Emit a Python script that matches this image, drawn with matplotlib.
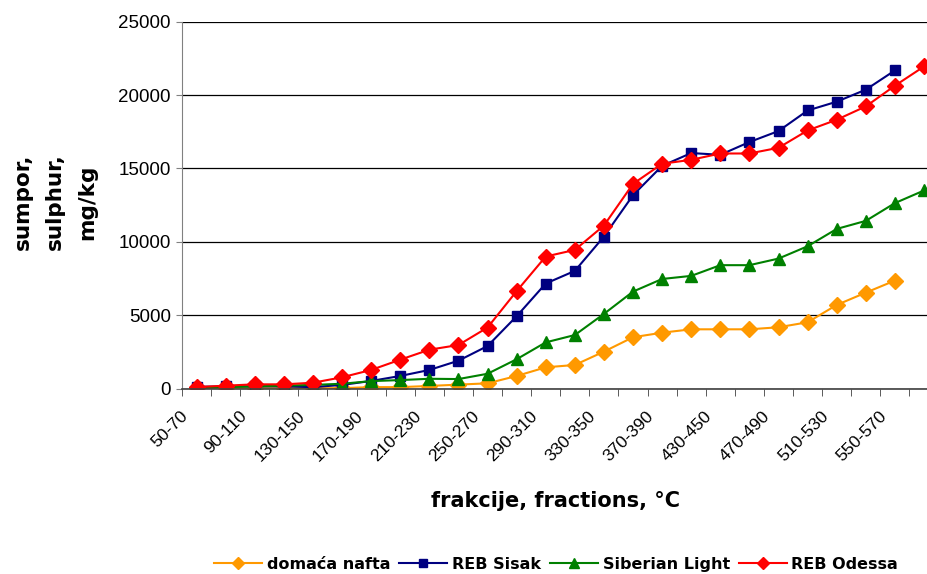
import matplotlib
matplotlib.use("Agg")
import matplotlib.pyplot as plt
import matplotlib.transforms as mtransforms
import numpy as np

plt.rcParams['font.family'] = ['Liberation Sans', 'DejaVu Sans']

# temperature fractions (26 categories, only every second one is labelled)
fractions = ["50-70", "70-90", "90-110", "110-130", "130-150", "150-170",
             "170-190", "190-210", "210-230", "230-250", "250-270", "270-290",
             "290-310", "310-330", "330-350", "350-370", "370-390", "390-430",
             "430-450", "450-470", "470-490", "490-510", "510-530", "530-550",
             "550-570", "570-590"]

# sulphur, mg/kg
domaca_nafta = [20, 20, 20, 20, 30, 30, 100, 100, 180, 270, 360, 860, 1450,
                1610, 2520, 3500, 3810, 4040, 4040, 4040, 4180, 4520, 5700,
                6540, 7360, None]
reb_sisak = [120, 150, 150, 150, 100, 250, 520, 860, 1270, 1900, 2900, 4930,
             7160, 8020, 10360, 13180, 15180, 16050, 15930, 16800, 17550,
             18950, 19550, 20370, 21680, None]
siberian_light = [30, 100, 150, 200, 250, 330, 510, 580, 670, 650, 1010, 2000,
                  3150, 3650, 5090, 6610, 7470, 7680, 8410, 8410, 8860, 9700,
                  10880, 11430, 12640, 13500]
reb_odessa = [100, 200, 290, 290, 400, 770, 1270, 1970, 2650, 2970, 4160,
              6640, 9000, 9450, 11110, 13950, 15320, 15590, 16020, 16020,
              16410, 17590, 18320, 19230, 20640, 21950]

def arr(v):
    return np.array([np.nan if a is None else a for a in v], dtype=float)

fig = plt.figure(figsize=(9.27, 5.74), dpi=100)
ax = fig.add_axes([0.1963, 0.323, 0.8162, 0.6392])

x = np.arange(len(fractions))
ax.plot(x, arr(domaca_nafta), color="#FF9900", marker="D", markersize=8, lw=1.5,
        label="domaća nafta")
ax.plot(x, arr(reb_sisak), color="#000080", marker="s", markersize=7.3, lw=1.5,
        label="REB Sisak")
ax.plot(x, arr(siberian_light), color="#008000", marker="^", markersize=9, lw=1.5,
        label="Siberian Light")
ax.plot(x, arr(reb_odessa), color="#FF0000", marker="D", markersize=8, lw=1.5,
        label="REB Odessa")

ax.set_xlim(-0.5, len(fractions) - 0.5)
ax.set_ylim(0, 25000)
ax.set_yticks(np.arange(0, 25001, 5000))
ax.yaxis.grid(True, color="black", lw=0.9)
ax.set_axisbelow(True)
ax.tick_params(axis="y", labelsize=13.5, length=4, color="#808080", pad=4)

ax.set_xticks(x[::2])
ax.set_xticklabels(fractions[::2], rotation=45, ha="right",
                   rotation_mode="anchor", fontsize=12.5)
ax.set_xticks(np.arange(len(fractions) + 1) - 0.5, minor=True)
ax.tick_params(axis="x", which="major", length=0, pad=10)
ax.tick_params(axis="x", which="minor", length=5, color="#404040")
# shift the rotated labels a bit left and down, like the original
shift = mtransforms.ScaledTranslation(-0.16, -0.06, fig.dpi_scale_trans)
for lab in ax.get_xticklabels():
    lab.set_transform(lab.get_transform() + shift)

for s in ["top", "right"]:
    ax.spines[s].set_visible(False)
ax.spines["left"].set_color("#808080")
ax.spines["bottom"].set_color("#404040")
ax.spines["bottom"].set_linewidth(1.2)

fig.text(0.0593, 0.648, "sumpor,\nsulphur,\nmg/kg", rotation=90, ha="center",
         va="center", fontsize=15.5, fontweight="bold", linespacing=1.75,
         family="DejaVu Sans")
fig.text(0.599, 0.128, "frakcije, fractions, °C", ha="center", va="center",
         fontsize=15, fontweight="bold", family="DejaVu Sans")

fig.legend(loc="center", bbox_to_anchor=(0.6, 0.017), ncol=4, frameon=False,
           prop={"weight": "bold", "size": 11.5, "family": "DejaVu Sans"},
           handlelength=3.0, handletextpad=0.3, columnspacing=0.55,
           borderaxespad=0, markerscale=0.8)

fig.savefig("out.png", dpi=100)
